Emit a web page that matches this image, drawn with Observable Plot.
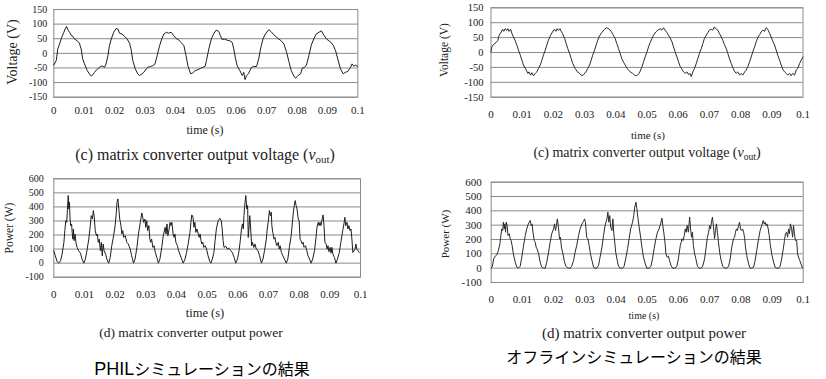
<!DOCTYPE html>
<html>
<head>
<meta charset="utf-8">
<script src="https://cdn.jsdelivr.net/npm/d3@7"></script>
<script src="https://cdn.jsdelivr.net/npm/@observablehq/plot@0.6"></script>
<style>
  html, body { margin: 0; padding: 0; background: #fff; }
  #root { position: relative; width: 826px; height: 379px; overflow: hidden; background: #fff; }
  .chart { position: absolute; }
  .t { position: absolute; transform: translate(-50%, -50%); white-space: nowrap; font-family: "Liberation Serif", "Times New Roman", serif; color: #222; line-height: 1; }
  .yl { transform: translate(-50%, -50%) rotate(-90deg); }
  .jp { font-family: "Noto Sans CJK JP", sans-serif; color: #000; }
  sub { font-size: 0.68em; vertical-align: -0.3em; line-height: 0; }
</style>
</head>
<body>
<div id="root"></div>
<script>
// ---- data (time s, value) ----
const xTicks = [0, 0.01, 0.02, 0.03, 0.04, 0.05, 0.06, 0.07, 0.08, 0.09, 0.1];
const voltageTicks = [-150, -100, -50, 0, 50, 100, 150];
const powerTicks = [-100, 0, 100, 200, 300, 400, 500, 600];

const philVoltage = [[0,-40],[0.0008,-25],[0.0013,15],[0.0019,32],[0.0026,55],[0.0033,72],[0.0037,83],[0.0042,92],[0.0046,81],[0.0052,72],[0.0057,62],[0.0063,58],[0.0068,49],[0.0077,43],[0.0084,35],[0.009,15],[0.0095,-19],[0.0101,-36],[0.011,-59],[0.0117,-70],[0.0123,-78],[0.0128,-74],[0.0134,-65],[0.0141,-56],[0.0147,-51],[0.0154,-44],[0.0161,-44],[0.0167,-48],[0.0172,-36],[0.0178,-8],[0.0183,26],[0.0189,49],[0.0197,72],[0.0205,85],[0.0211,83],[0.0216,69],[0.0224,66],[0.0233,58],[0.0241,49],[0.0249,35],[0.0254,15],[0.026,-25],[0.0268,-53],[0.0276,-70],[0.0282,-76],[0.029,-70],[0.0296,-65],[0.0304,-53],[0.0309,-48],[0.0318,-45],[0.0326,-42],[0.0333,-36],[0.034,-8],[0.0348,26],[0.0355,49],[0.0362,66],[0.037,72],[0.0377,69],[0.0386,72],[0.0395,60],[0.0402,51],[0.041,47],[0.0419,37],[0.0428,26],[0.0435,-8],[0.0441,-42],[0.045,-70],[0.0457,-67],[0.0465,-59],[0.0474,-56],[0.0483,-51],[0.049,-48],[0.0498,-44],[0.0502,-25],[0.051,15],[0.0518,49],[0.0527,69],[0.0535,80],[0.0543,74],[0.0548,60],[0.0554,47],[0.0561,49],[0.057,45],[0.0579,43],[0.0587,37],[0.0592,15],[0.0598,-19],[0.0603,-42],[0.0612,-59],[0.062,-76],[0.0625,-65],[0.0629,-90],[0.0634,-76],[0.064,-70],[0.0645,-59],[0.065,-48],[0.0658,-45],[0.0667,-45],[0.0674,-19],[0.068,15],[0.0688,49],[0.0696,66],[0.0707,81],[0.0715,74],[0.0724,63],[0.0733,55],[0.074,49],[0.0748,43],[0.0757,32],[0.0766,3],[0.0774,-31],[0.0781,-59],[0.079,-78],[0.0795,-85],[0.0803,-76],[0.0812,-70],[0.0817,-51],[0.0825,-48],[0.0831,-40],[0.0839,-8],[0.0847,28],[0.0855,49],[0.0863,66],[0.0872,72],[0.088,77],[0.0888,63],[0.0897,49],[0.0905,43],[0.0912,37],[0.0919,28],[0.0927,9],[0.0934,-19],[0.0943,-53],[0.0952,-70],[0.0959,-65],[0.0967,-62],[0.0976,-48],[0.0981,-36],[0.0987,-44],[0.0992,-40],[0.1,-45]];

const offlineVoltage = [[0,2],[0.0003,19],[0.0008,27],[0.0016,33],[0.0022,41],[0.0026,58],[0.0033,69],[0.0037,78],[0.0041,71],[0.0045,80],[0.0051,74],[0.0054,80],[0.0058,71],[0.0063,78],[0.0067,64],[0.0072,52],[0.0077,41],[0.0083,25],[0.0088,8],[0.0094,-9],[0.0099,-26],[0.0104,-42],[0.0112,-57],[0.0118,-70],[0.0122,-65],[0.0127,-76],[0.0131,-68],[0.0136,-78],[0.0142,-70],[0.0147,-65],[0.0152,-54],[0.0158,-42],[0.0163,-26],[0.0168,-9],[0.0174,8],[0.0179,25],[0.0184,41],[0.0191,58],[0.0197,69],[0.0203,78],[0.0208,71],[0.0212,80],[0.0216,74],[0.0221,80],[0.0225,71],[0.0229,64],[0.0236,47],[0.0241,30],[0.0246,13],[0.0252,-3],[0.0257,-20],[0.0262,-37],[0.027,-54],[0.0277,-65],[0.0284,-70],[0.0291,-78],[0.0297,-74],[0.0304,-65],[0.031,-54],[0.0316,-42],[0.0321,-26],[0.0326,-9],[0.0332,8],[0.0337,25],[0.0342,41],[0.0348,56],[0.0355,67],[0.0364,78],[0.0371,83],[0.0379,78],[0.0385,71],[0.0391,60],[0.0398,47],[0.0403,30],[0.0409,13],[0.0414,-3],[0.0419,-20],[0.0425,-33],[0.043,-42],[0.0438,-56],[0.0446,-65],[0.0454,-70],[0.046,-76],[0.0467,-78],[0.0475,-70],[0.0484,-48],[0.0489,-31],[0.0494,-15],[0.05,2],[0.0505,19],[0.051,33],[0.0516,47],[0.0521,58],[0.0528,69],[0.0535,75],[0.0542,80],[0.0548,75],[0.0553,83],[0.0558,75],[0.0564,67],[0.0569,58],[0.0574,49],[0.058,36],[0.0585,19],[0.059,2],[0.0596,-15],[0.0601,-31],[0.0606,-46],[0.0612,-56],[0.0617,-65],[0.0622,-70],[0.0628,-65],[0.0633,-74],[0.0638,-70],[0.0642,-81],[0.0647,-65],[0.0652,-54],[0.0658,-37],[0.0663,-20],[0.0668,-3],[0.0674,13],[0.0679,30],[0.0684,47],[0.069,58],[0.0695,67],[0.07,75],[0.0706,78],[0.0711,75],[0.0716,86],[0.0722,78],[0.0727,75],[0.0732,64],[0.0738,52],[0.0743,41],[0.0748,27],[0.0754,13],[0.0759,-3],[0.0764,-20],[0.077,-37],[0.0775,-51],[0.078,-62],[0.0786,-70],[0.0791,-65],[0.0797,-76],[0.0802,-70],[0.0807,-76],[0.0813,-65],[0.0818,-59],[0.0823,-48],[0.0829,-31],[0.0834,-15],[0.0839,2],[0.0845,19],[0.085,36],[0.0855,50],[0.0861,60],[0.0866,69],[0.0871,75],[0.0877,71],[0.0882,83],[0.0887,78],[0.0893,64],[0.0898,52],[0.0903,38],[0.0909,25],[0.0914,8],[0.0919,-9],[0.0925,-26],[0.093,-42],[0.0935,-56],[0.0941,-65],[0.0946,-70],[0.0951,-76],[0.0957,-70],[0.0962,-78],[0.0967,-70],[0.0973,-76],[0.0978,-59],[0.0983,-54],[0.0989,-37],[0.0994,-26],[0.1,-15]];

const philPower = [[0,88],[0.0005,52],[0.0011,10],[0.0016,0],[0.0022,17],[0.0027,64],[0.0033,148],[0.0036,231],[0.0039,302],[0.0042,290],[0.0044,362],[0.0047,481],[0.0049,386],[0.0051,433],[0.0053,314],[0.0055,267],[0.0058,279],[0.006,219],[0.0062,171],[0.0064,243],[0.0066,160],[0.0069,207],[0.0073,136],[0.0076,112],[0.0081,88],[0.0087,71],[0.0092,29],[0.0098,0],[0.0103,29],[0.0108,88],[0.0114,171],[0.0119,267],[0.0122,338],[0.0126,314],[0.0129,374],[0.0132,326],[0.0135,231],[0.0139,195],[0.0142,207],[0.0145,148],[0.0148,171],[0.0152,88],[0.0155,148],[0.0158,52],[0.0161,136],[0.0164,88],[0.0169,64],[0.0173,29],[0.0179,0],[0.0184,40],[0.0189,124],[0.0195,195],[0.02,267],[0.0204,362],[0.0206,433],[0.0209,457],[0.0212,386],[0.0215,314],[0.0219,267],[0.0222,207],[0.0225,231],[0.0228,183],[0.0233,195],[0.0238,148],[0.0243,136],[0.0249,100],[0.0254,52],[0.026,0],[0.0265,29],[0.0271,112],[0.0276,207],[0.0282,290],[0.0287,357],[0.029,326],[0.0293,290],[0.0297,314],[0.03,255],[0.0303,302],[0.0306,231],[0.031,267],[0.0313,171],[0.0316,148],[0.0319,171],[0.0323,112],[0.0327,124],[0.0331,76],[0.0336,40],[0.0341,0],[0.0346,29],[0.0352,112],[0.0357,195],[0.0363,255],[0.0366,207],[0.0369,279],[0.0372,195],[0.0376,243],[0.0379,290],[0.0382,267],[0.0385,290],[0.0389,207],[0.0392,183],[0.0395,207],[0.0398,148],[0.0403,124],[0.0407,88],[0.0411,64],[0.0417,29],[0.0422,0],[0.0428,29],[0.0433,76],[0.0438,136],[0.0444,219],[0.0447,290],[0.045,343],[0.0454,326],[0.0457,255],[0.046,290],[0.0463,219],[0.0467,243],[0.0471,207],[0.0474,183],[0.0477,207],[0.048,160],[0.0483,136],[0.0486,148],[0.0489,112],[0.0494,124],[0.0498,100],[0.0503,52],[0.0509,10],[0.0512,0],[0.0517,29],[0.0522,76],[0.0526,160],[0.053,243],[0.0536,302],[0.0541,319],[0.0546,302],[0.0549,243],[0.0552,160],[0.0555,112],[0.0561,119],[0.0566,100],[0.0572,105],[0.0577,88],[0.0582,76],[0.0588,40],[0.0593,0],[0.0599,29],[0.0604,88],[0.0608,160],[0.0612,243],[0.0615,279],[0.0618,243],[0.062,338],[0.0622,398],[0.0626,481],[0.0629,386],[0.0632,410],[0.0634,183],[0.0637,267],[0.0639,338],[0.0642,243],[0.0645,124],[0.0648,148],[0.0652,112],[0.0656,136],[0.066,100],[0.0666,88],[0.0671,52],[0.0677,0],[0.0682,29],[0.0687,88],[0.0693,171],[0.0696,243],[0.0699,290],[0.0703,374],[0.0706,338],[0.0709,362],[0.0711,267],[0.0714,219],[0.0718,171],[0.0721,183],[0.0724,148],[0.0727,124],[0.0732,148],[0.0735,100],[0.0738,124],[0.0742,76],[0.0747,52],[0.0752,29],[0.0758,0],[0.0763,29],[0.0768,112],[0.0774,195],[0.0777,267],[0.0781,362],[0.0784,410],[0.0787,445],[0.079,410],[0.0793,386],[0.0797,314],[0.08,302],[0.0803,171],[0.0806,160],[0.081,136],[0.0813,148],[0.0816,112],[0.0821,124],[0.0825,88],[0.0829,52],[0.0834,29],[0.0839,0],[0.0844,29],[0.085,88],[0.0855,183],[0.0858,255],[0.0862,290],[0.0865,267],[0.0868,290],[0.0871,267],[0.0875,314],[0.0878,343],[0.0881,267],[0.0884,148],[0.0888,136],[0.0891,100],[0.0894,124],[0.0897,81],[0.0901,112],[0.0904,71],[0.0907,112],[0.091,64],[0.0915,40],[0.092,0],[0.0925,29],[0.0931,76],[0.0936,148],[0.0942,231],[0.0946,279],[0.0949,326],[0.0952,267],[0.0956,290],[0.0959,243],[0.0962,267],[0.0966,231],[0.0969,243],[0.0972,171],[0.0975,76],[0.0979,88],[0.0982,100],[0.0985,136],[0.0988,100],[0.0992,88],[0.0996,76]];

const offlinePower = [[0,0],[0.0004,14],[0.0008,65],[0.0013,84],[0.0018,93],[0.0023,123],[0.0028,170],[0.0031,228],[0.0034,274],[0.0037,263],[0.0039,321],[0.0042,274],[0.0044,309],[0.0046,251],[0.0048,321],[0.0051,298],[0.0054,228],[0.0058,240],[0.0061,205],[0.0064,193],[0.0067,158],[0.0071,100],[0.0077,42],[0.0082,7],[0.0087,0],[0.0093,14],[0.0098,77],[0.0103,147],[0.0109,228],[0.0114,274],[0.0119,309],[0.0125,333],[0.0128,298],[0.0131,309],[0.0134,251],[0.0138,193],[0.0141,181],[0.0144,147],[0.0147,135],[0.0152,100],[0.0157,42],[0.0162,7],[0.0168,0],[0.0173,0],[0.0178,42],[0.0184,112],[0.0189,181],[0.0194,240],[0.02,274],[0.0203,309],[0.0206,263],[0.0209,298],[0.0212,344],[0.0216,274],[0.0219,205],[0.0222,216],[0.0225,147],[0.023,100],[0.0234,53],[0.0239,14],[0.0246,0],[0.0253,0],[0.0258,14],[0.0264,53],[0.0269,112],[0.0274,158],[0.028,228],[0.0285,274],[0.0291,309],[0.0296,326],[0.0299,344],[0.0302,321],[0.0306,216],[0.031,205],[0.0314,158],[0.0318,100],[0.0323,53],[0.0328,7],[0.0333,0],[0.0338,0],[0.0344,19],[0.0349,77],[0.0355,147],[0.036,228],[0.0365,298],[0.0371,344],[0.0374,391],[0.0377,321],[0.038,367],[0.0383,286],[0.0387,263],[0.039,344],[0.0393,240],[0.0396,181],[0.0399,112],[0.0404,53],[0.0408,14],[0.0413,0],[0.0421,0],[0.0426,14],[0.0431,65],[0.0437,135],[0.0442,205],[0.0447,274],[0.0453,321],[0.0457,367],[0.046,426],[0.0464,460],[0.0467,414],[0.047,356],[0.0475,274],[0.0479,216],[0.0483,147],[0.0488,77],[0.0494,30],[0.0499,0],[0.0506,0],[0.0512,14],[0.0517,65],[0.0522,135],[0.0528,205],[0.0533,251],[0.0538,274],[0.0543,309],[0.0547,349],[0.055,298],[0.0553,251],[0.0557,181],[0.056,100],[0.0564,77],[0.0568,84],[0.0573,42],[0.0577,14],[0.0582,0],[0.059,0],[0.0595,14],[0.06,65],[0.0606,158],[0.0609,181],[0.0612,205],[0.0615,193],[0.0619,228],[0.0622,274],[0.0625,251],[0.0628,298],[0.0632,251],[0.0636,356],[0.0639,274],[0.0642,216],[0.0645,251],[0.0648,158],[0.0652,100],[0.0656,65],[0.0661,14],[0.0667,0],[0.0673,0],[0.0678,14],[0.0684,65],[0.0689,147],[0.0693,216],[0.0697,251],[0.07,298],[0.0703,274],[0.0706,321],[0.0709,356],[0.0712,298],[0.0716,205],[0.0719,263],[0.0722,309],[0.0725,251],[0.0729,170],[0.0733,100],[0.0737,53],[0.0742,14],[0.0748,0],[0.0755,0],[0.0761,14],[0.0766,65],[0.0771,147],[0.0777,209],[0.078,216],[0.0783,251],[0.0786,274],[0.0789,263],[0.0793,298],[0.0796,321],[0.0799,274],[0.0802,263],[0.0806,274],[0.0809,251],[0.0812,216],[0.0815,147],[0.0819,88],[0.0825,30],[0.083,0],[0.0835,0],[0.0841,7],[0.0846,53],[0.0851,123],[0.0857,205],[0.0862,263],[0.0867,298],[0.0872,333],[0.0875,309],[0.0878,321],[0.0881,298],[0.0884,309],[0.0888,274],[0.0891,228],[0.0894,170],[0.0899,100],[0.0905,42],[0.091,7],[0.0915,0],[0.0921,0],[0.0926,14],[0.0931,65],[0.0937,147],[0.094,193],[0.0943,240],[0.0947,251],[0.095,216],[0.0953,274],[0.0956,240],[0.0959,309],[0.0963,274],[0.0966,216],[0.0969,298],[0.0972,240],[0.0975,193],[0.0979,193],[0.0982,100],[0.0985,77],[0.0989,53],[0.0994,23],[0.0998,0]];

// ---- drawing ----
const root = document.getElementById("root");
const fmtX = d => d3.format("~g")(d);
const fmtY = d => String(d);

function chart(cfg) {
  const p = Plot.plot({
    width: cfg.width, height: cfg.height,
    marginLeft: cfg.ml, marginRight: cfg.mr, marginTop: cfg.mt, marginBottom: cfg.mb,
    style: { fontFamily: '"Liberation Serif", "Times New Roman", serif', color: "#222", background: "transparent", overflow: "visible" },
    x: { domain: [0, 0.1] },
    y: { domain: cfg.yDomain },
    marks: [
      Plot.gridY(cfg.yTicks, { stroke: "#8a8a8a", strokeOpacity: 1, strokeWidth: 1 }),
      Plot.frame({ stroke: "#8a8a8a", strokeWidth: 1 }),
      Plot.line(cfg.data, { x: d => d[0], y: d => d[1], stroke: cfg.stroke, strokeWidth: 1 }),
      Plot.axisX({ ticks: xTicks, tickFormat: fmtX, tickSize: 0, tickPadding: cfg.xPad, label: null, fontSize: cfg.xFont }),
      Plot.axisY({ ticks: cfg.yTicks, tickFormat: fmtY, tickSize: 0, tickPadding: cfg.yPad, label: null, fontSize: cfg.yFont })
    ]
  });
  const div = document.createElement("div");
  div.className = "chart";
  div.style.left = cfg.left + "px";
  div.style.top = cfg.top + "px";
  div.appendChild(p);
  root.appendChild(div);
}

function text(html, x, y, size, cls) {
  const d = document.createElement("div");
  d.className = "t" + (cls ? " " + cls : "");
  d.style.left = x + "px";
  d.style.top = y + "px";
  d.style.fontSize = size + "px";
  d.innerHTML = html;
  root.appendChild(d);
}

// top-left: PHIL voltage
chart({ data: philVoltage, yDomain: [-150, 150], yTicks: voltageTicks, stroke: "#1e1e1e",
  left: 0, top: 0, width: 370, height: 125, ml: 53.3, mr: 12.7, mt: 9, mb: 28.3,
  xPad: 9, yPad: 6.5, xFont: 11, yFont: 10 });
// top-right: offline voltage
chart({ data: offlineVoltage, yDomain: [-150, 150], yTicks: voltageTicks, stroke: "#2a2a2a",
  left: 430, top: 0, width: 390, height: 125, ml: 60.5, mr: 17.5, mt: 7.3, mb: 28.3,
  xPad: 13, yPad: 7.5, xFont: 11, yFont: 10.5 });
// bottom-left: PHIL power
chart({ data: philPower, yDomain: [-100, 600], yTicks: powerTicks, stroke: "#1e1e1e",
  left: 0, top: 170, width: 370, height: 135, ml: 53.3, mr: 10, mt: 8.3, mb: 28.3,
  xPad: 12.5, yPad: 10, xFont: 11, yFont: 10 });
// bottom-right: offline power
chart({ data: offlinePower, yDomain: [-100, 600], yTicks: powerTicks, stroke: "#2a2a2a",
  left: 430, top: 170, width: 390, height: 135, ml: 60.7, mr: 17.3, mt: 11.7, mb: 23,
  xPad: 13, yPad: 9.5, xFont: 11, yFont: 11 });

// axis titles and captions
text("Voltage (V)", 13, 52, 14, "yl");
text("time (s)", 205, 130, 12);
text('(c) matrix converter output voltage (<i>v</i><sub>out</sub>)', 205, 155, 16);

text("Voltage (V)", 445, 50, 11.5, "yl");
text("time (s)", 648, 135, 11);
text('(c) matrix converter output voltage (<i>v</i><sub>out</sub>)', 647, 153, 14);

text("Power (W)", 10, 228, 11.5, "yl");
text("time (s)", 205, 313, 12.5);
text("(d) matrix converter output power", 191, 333, 13.5);

text("Power (W)", 445, 234, 11, "yl");
text("time (s)", 644, 316, 10);
text("(d) matrix converter output power", 644, 333, 15);

text('<span style="font-family:\'Liberation Sans\',Arial,sans-serif;font-size:18px">PHIL</span>シミュレーションの結果', 202, 369, 16, "jp");
text("オフラインシミュレーションの結果", 634, 356, 16, "jp");
</script>
</body>
</html>
